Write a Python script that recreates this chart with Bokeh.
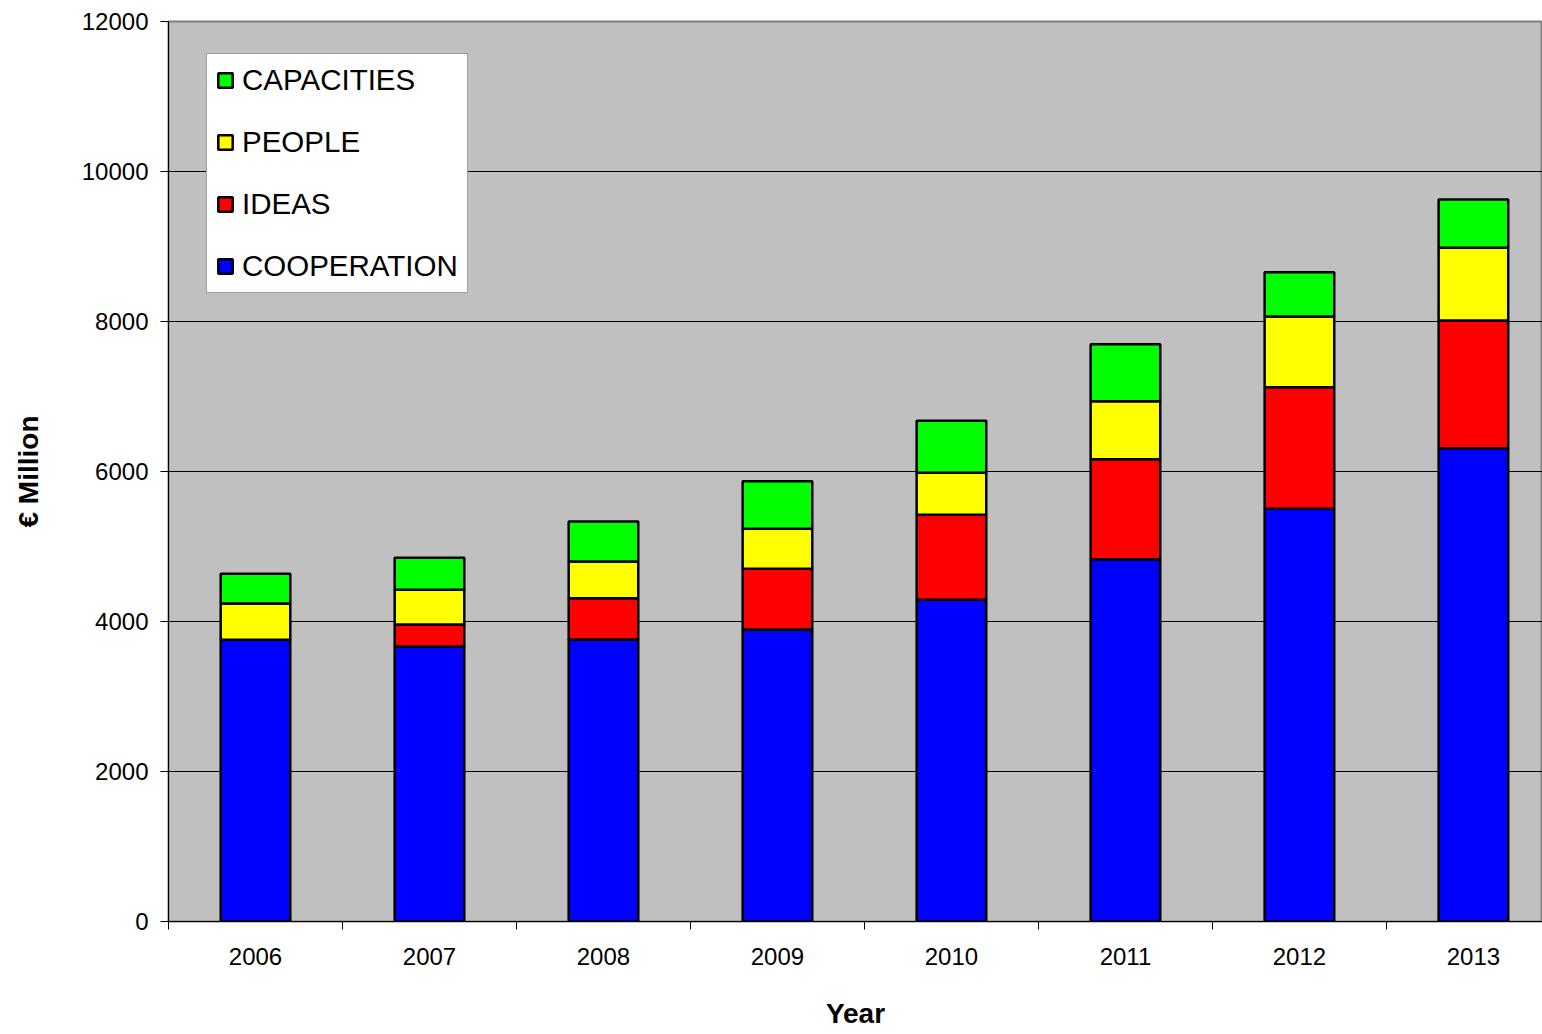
from bokeh.plotting import figure
from bokeh.models import ColumnDataSource, FixedTicker, Legend, LegendItem, Range1d
from bokeh.embed import file_html
from bokeh.resources import INLINE

years = ["2006", "2007", "2008", "2009", "2010", "2011", "2012", "2013"]
cooperation = [3756, 3667, 3760, 3893, 4289, 4831, 5502, 6311]
ideas = [0, 293, 551, 809, 1133, 1333, 1622, 1702]
people = [484, 463, 489, 534, 560, 774, 943, 969]
capacities = [396, 426, 533, 635, 694, 760, 591, 645]
series = ["COOPERATION", "IDEAS", "PEOPLE", "CAPACITIES"]
colors = ["#0000FF", "#FF0000", "#FFFF00", "#00FF00"]
y_ticks = [0, 2000, 4000, 6000, 8000, 10000, 12000]

xpos = [i + 0.5 for i in range(len(years))]
src = ColumnDataSource(dict(x=xpos, COOPERATION=cooperation, IDEAS=ideas,
                            PEOPLE=people, CAPACITIES=capacities))

FONT = "Liberation Sans"

p = figure(width=1542, height=1034, output_backend="svg", toolbar_location=None,
           x_range=Range1d(0, 7.897), y_range=Range1d(0, 12000),
           min_border_left=168, min_border_right=0, min_border_top=21,
           min_border_bottom=113)

p.background_fill_color = "#C0C0C0"
p.border_fill_color = "white"
p.outline_line_color = "#808080"
p.outline_line_width = 2

renderers = p.vbar_stack(series, x="x", width=0.40, source=src, color=colors,
                         line_color="black", line_width=2.5)

# x axis: labels at centres, ticks at category boundaries
p.xaxis.ticker = FixedTicker(ticks=xpos, minor_ticks=list(range(len(years) + 1)))
p.xaxis.major_label_overrides = {x: y for x, y in zip(xpos, years)}
p.xaxis.major_tick_out = 0
p.xaxis.major_tick_in = 0
p.xaxis.minor_tick_out = 8
p.xaxis.minor_tick_in = 0
p.xaxis.minor_tick_line_color = "black"
p.xaxis.axis_line_color = "black"
p.xaxis.axis_line_width = 1
p.xaxis.major_label_standoff = 18
p.xaxis.major_label_text_font = FONT
p.xaxis.major_label_text_font_size = "24px"
p.xaxis.major_label_text_color = "black"
p.xaxis.axis_label = "Year"
p.xaxis.axis_label_text_font = FONT
p.xaxis.axis_label_text_font_size = "28px"
p.xaxis.axis_label_text_font_style = "bold"
p.xaxis.axis_label_text_color = "black"
p.xaxis.axis_label_standoff = 30

p.yaxis.ticker = FixedTicker(ticks=y_ticks, minor_ticks=[])
p.yaxis.formatter.use_scientific = False
p.yaxis.major_tick_out = 8
p.yaxis.major_tick_in = 0
p.yaxis.major_tick_line_color = "black"
p.yaxis.axis_line_color = "black"
p.yaxis.major_label_standoff = 12
p.yaxis.major_label_text_font = FONT
p.yaxis.major_label_text_font_size = "24px"
p.yaxis.major_label_text_color = "black"
p.yaxis.axis_label = "€ Million"
p.yaxis.axis_label_text_font = FONT
p.yaxis.axis_label_text_font_size = "28px"
p.yaxis.axis_label_text_font_style = "bold"
p.yaxis.axis_label_text_color = "black"
p.yaxis.axis_label_standoff = 35

p.xgrid.grid_line_color = None
p.ygrid.ticker = FixedTicker(ticks=y_ticks)
p.ygrid.grid_line_color = "black"
p.ygrid.grid_line_width = 1

items = [LegendItem(label=s, renderers=[r]) for s, r in zip(series, renderers)][::-1]
legend = Legend(items=items, location=(38, 628), background_fill_color="white",
                background_fill_alpha=1.0, border_line_color="#404040",
                border_line_width=1, label_text_font=FONT,
                label_text_font_size="29.5px", label_text_color="black",
                glyph_width=18, glyph_height=18, spacing=28, padding=9,
                margin=0, label_standoff=8)
p.add_layout(legend)

open("out.html", "w").write(file_html(p, INLINE))
